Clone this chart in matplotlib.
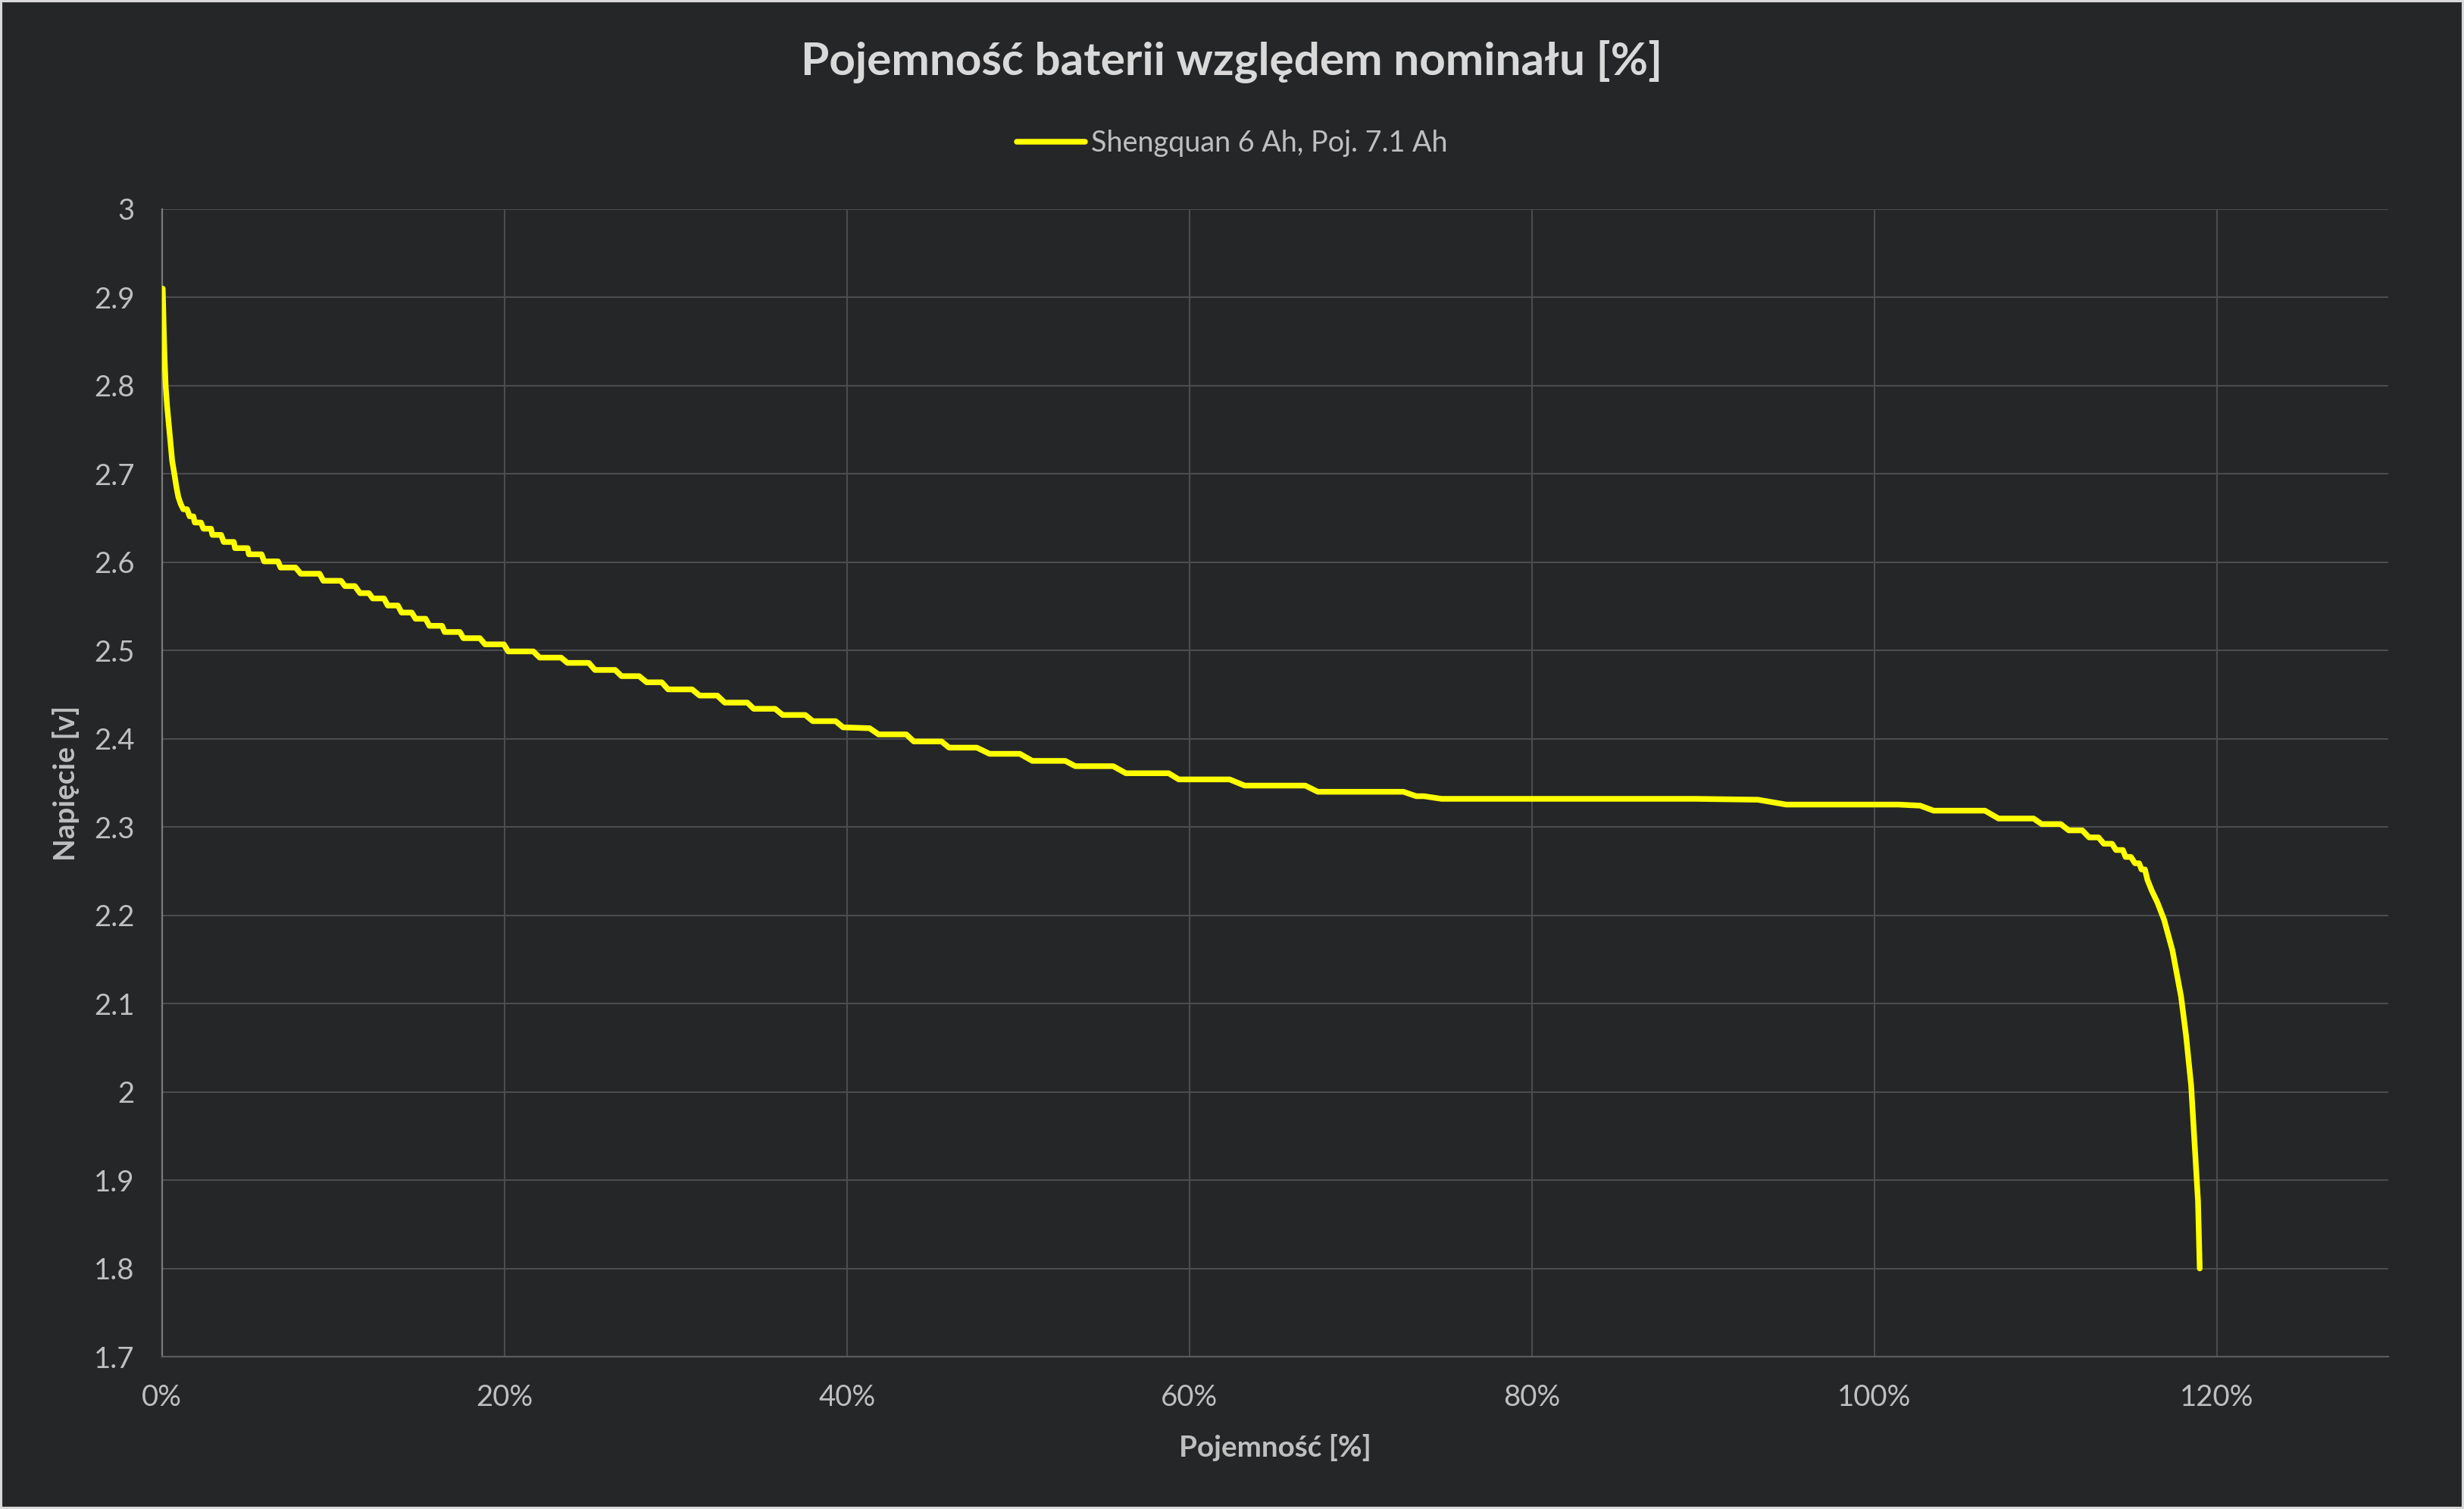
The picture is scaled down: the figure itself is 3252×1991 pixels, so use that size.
import matplotlib
matplotlib.use("Agg")
import matplotlib.pyplot as plt
from matplotlib.patches import Rectangle
from matplotlib.ticker import FuncFormatter, MultipleLocator

# ---- data ----
series_label = "Shengquan 6 Ah, Poj. 7.1 Ah"
capacity_pct = [
    0.05, 0.10, 0.15, 0.22, 0.30, 0.40, 0.50, 0.60, 0.73, 0.85, 0.96, 1.10,
    1.25, 1.47, 1.62, 1.84, 1.92, 2.28, 2.43, 2.87, 2.95, 3.46, 3.61, 4.20,
    4.27, 5.01, 5.08, 5.82, 5.97, 6.78, 6.93, 7.81, 8.11, 9.21, 9.43, 10.46,
    10.69, 11.27, 11.57, 12.09, 12.31, 12.97, 13.19, 13.78, 14.00, 14.59,
    14.81, 15.40, 15.62, 16.36, 16.51, 17.40, 17.61, 18.57, 18.87, 19.97,
    20.22, 21.69, 22.06, 23.31, 23.68, 24.93, 25.29, 26.47, 26.84, 27.87,
    28.31, 29.19, 29.56, 30.96, 31.40, 32.43, 32.87, 34.19, 34.56, 35.81,
    36.25, 37.57, 38.01, 39.34, 39.78, 41.33, 41.85, 43.47, 43.91, 45.53,
    45.97, 47.59, 48.33, 50.10, 50.83, 52.75, 53.34, 55.55, 56.29, 58.79,
    59.38, 62.35, 63.23, 66.77, 67.50, 72.50, 73.25, 73.70, 74.72, 89.50,
    93.20, 94.85, 101.40, 102.67, 103.46, 106.46, 107.25, 109.30, 109.77,
    110.88, 111.35, 112.14, 112.54, 113.09, 113.40, 113.88, 114.11, 114.51,
    114.67, 114.98, 115.22, 115.46, 115.60, 115.80, 115.95, 116.20, 116.52,
    116.92, 117.41, 117.91, 118.20, 118.50, 118.70, 118.90, 119.00,
]
voltage_v = [
    2.910, 2.870, 2.835, 2.800, 2.778, 2.757, 2.735, 2.715, 2.700, 2.685, 2.674, 2.666,
    2.660, 2.660, 2.652, 2.652, 2.645, 2.645, 2.638, 2.638, 2.631, 2.631, 2.623, 2.623,
    2.616, 2.616, 2.609, 2.609, 2.601, 2.601, 2.594, 2.594, 2.587, 2.587, 2.579, 2.579,
    2.573, 2.573, 2.565, 2.565, 2.559, 2.559, 2.551, 2.551, 2.543, 2.543,
    2.536, 2.536, 2.528, 2.528, 2.521, 2.521, 2.514, 2.514, 2.507, 2.507,
    2.499, 2.499, 2.492, 2.492, 2.486, 2.486, 2.478, 2.478, 2.471, 2.471,
    2.464, 2.464, 2.456, 2.456, 2.449, 2.449, 2.441, 2.441, 2.434, 2.434,
    2.427, 2.427, 2.420, 2.420, 2.413, 2.412, 2.405, 2.405, 2.397, 2.397,
    2.390, 2.390, 2.383, 2.383, 2.375, 2.375, 2.369, 2.369, 2.361, 2.361,
    2.354, 2.354, 2.347, 2.347, 2.340, 2.340, 2.335, 2.335, 2.332, 2.332,
    2.331, 2.3255, 2.3255, 2.3243, 2.3186, 2.3186, 2.3097, 2.3097, 2.3034,
    2.3034, 2.2963, 2.2963, 2.2883, 2.2883, 2.2811, 2.2811, 2.2740, 2.2740,
    2.2662, 2.2662, 2.2590, 2.2590, 2.2520, 2.2520, 2.240, 2.228, 2.215,
    2.195, 2.160, 2.108, 2.064, 2.007, 1.942, 1.876, 1.800,
]
title_text = "Pojemność baterii względem nominału [%]"
x_label = "Pojemność [%]"
y_label = "Napięcie [v]"
x_ticks = [0, 0.2, 0.4, 0.6, 0.8, 1.0, 1.2]

# ---- styling ----
BG = "#252628"
GRID = "#4b4c4e"
TXT = "#bfbfbf"
plt.rcParams["font.family"] = ["Lato", "DejaVu Sans"]

fig = plt.figure(figsize=(16.26, 9.955), dpi=200, facecolor=BG)
ax = fig.add_axes([0.0657, 0.1009, 0.9035, 0.7605], facecolor=BG)

x_frac = [c / 100.0 for c in capacity_pct]
ax.plot(x_frac, voltage_v, color="#ffff00", lw=2.7, solid_capstyle="round",
        solid_joinstyle="round", label=series_label, zorder=3)

ax.set_xlim(0, 1.3)
ax.set_ylim(1.7, 3.0)
ax.set_xticks(x_ticks)
ax.yaxis.set_major_locator(MultipleLocator(0.1))
ax.xaxis.set_major_formatter(FuncFormatter(lambda v, p: f"{v*100:.0f}%"))
ax.yaxis.set_major_formatter(FuncFormatter(lambda v, p: f"{round(v, 2):g}"))
ax.grid(True, color=GRID, lw=0.75, zorder=0)
ax.set_axisbelow(True)
ax.tick_params(length=0, labelsize=13.8, labelcolor=TXT)
ax.tick_params(axis="y", pad=13)
ax.tick_params(axis="x", pad=13)
for s in ("top", "right"):
    ax.spines[s].set_visible(False)
ax.spines["left"].set_color("#7a7a7a")
ax.spines["left"].set_linewidth(0.8)
ax.spines["bottom"].set_color("#5a5b5d")
ax.spines["bottom"].set_linewidth(0.8)

ax.set_xlabel(x_label, fontsize=13.9, fontweight="bold", color=TXT)
ax.xaxis.set_label_coords(0.5, -0.079)
ax.xaxis.label.set_va("center")
ax.set_ylabel(y_label, fontsize=13.9, fontweight="bold", color=TXT)
ax.yaxis.set_label_coords(-0.0431, 0.5)
ax.yaxis.label.set_va("center")

fig.text(0.5, 1 - 81 / 1991, title_text, ha="center", va="center",
         fontsize=21.7, fontweight="bold", color="#d9d9d9")

leg = fig.legend(loc="center", bbox_to_anchor=(0.5, 1 - 189 / 1991),
                 frameon=False, fontsize=13.6, handlelength=2.4,
                 handletextpad=0.2, labelcolor=TXT)

fig.patches.append(Rectangle((0, 0), 1, 1, transform=fig.transFigure,
                             fill=False, edgecolor="#d9d9d9", lw=2.2))

fig.savefig("out.png", dpi=200, facecolor=BG)
